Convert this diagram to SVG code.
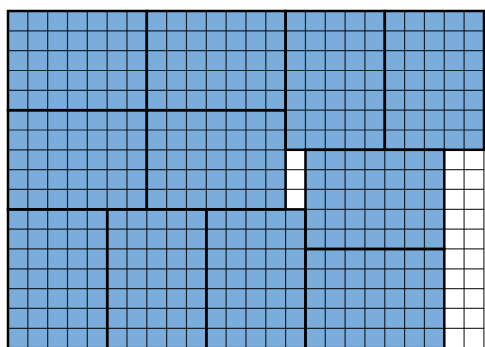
<svg xmlns="http://www.w3.org/2000/svg" width="485" height="347" viewBox="0 0 485 347">
<defs>
<style>
.blk rect{fill:#7aaddc;stroke:none}
#gridlines path{fill:none;stroke:#000;stroke-width:1.2;stroke-opacity:0.8}
#outlines rect{fill:none;stroke:#000;stroke-width:2.5}
</style>
</defs>
<rect width="485" height="347" fill="#fff"/>
<g id="A" class="blk"><rect x="8" y="11" width="138.8" height="99.2"/></g>
<g id="B" class="blk"><rect x="146.8" y="11" width="138.8" height="99.2"/></g>
<g id="C" class="blk"><rect x="8" y="110.2" width="138.8" height="99.2"/></g>
<g id="D" class="blk"><rect x="146.8" y="110.2" width="138.8" height="99.2"/></g>
<g id="E" class="blk"><rect x="285.6" y="11" width="99.2" height="138.8"/></g>
<g id="F" class="blk"><rect x="384.8" y="11" width="99.2" height="138.8"/></g>
<g id="G" class="blk"><rect x="305.5" y="149.8" width="138.8" height="99.2"/></g>
<g id="H" class="blk"><rect x="305.5" y="249" width="138.8" height="99.2"/></g>
<g id="I" class="blk"><rect x="8" y="209.4" width="99.2" height="138.8"/></g>
<g id="J" class="blk"><rect x="107.2" y="209.4" width="99.2" height="138.8"/></g>
<g id="K" class="blk"><rect x="206.3" y="209.4" width="99.2" height="138.8"/></g>
<g id="gridlines">
<path d="M8 11V347M27.83 11V347M47.66 11V347M67.49 11V347M87.32 11V347M107.15 11V347M126.98 11V347M146.81 11V347M166.64 11V347M186.47 11V347M206.3 11V347M226.13 11V347M245.96 11V347M265.79 11V347M285.62 11V347M305.45 11V347M325.28 11V347M345.11 11V347M364.94 11V347M384.77 11V347M404.6 11V347M424.43 11V347M444.26 11V347M464.09 11V347M483.9 11V347"/>
<path d="M8 11H484M8 30.83H484M8 50.66H484M8 70.49H484M8 90.32H484M8 110.15H484M8 129.98H484M8 149.81H484M8 169.64H484M8 189.47H484M8 209.3H484M8 229.13H484M8 248.96H484M8 268.79H484M8 288.62H484M8 308.45H484M8 328.28H484"/>
</g>
<g id="outlines">
<rect x="8" y="11" width="138.8" height="99.2"/>
<rect x="146.8" y="11" width="138.8" height="99.2"/>
<rect x="8" y="110.2" width="138.8" height="99.2"/>
<rect x="146.8" y="110.2" width="138.8" height="99.2"/>
<rect x="285.6" y="11" width="99.2" height="138.8"/>
<rect x="384.8" y="11" width="99.2" height="138.8"/>
<rect x="305.5" y="149.8" width="138.8" height="99.2"/>
<rect x="305.5" y="249" width="138.8" height="99.2"/>
<rect x="8" y="209.4" width="99.2" height="138.8"/>
<rect x="107.2" y="209.4" width="99.2" height="138.8"/>
<rect x="206.3" y="209.4" width="99.2" height="138.8"/>
</g>
</svg>
